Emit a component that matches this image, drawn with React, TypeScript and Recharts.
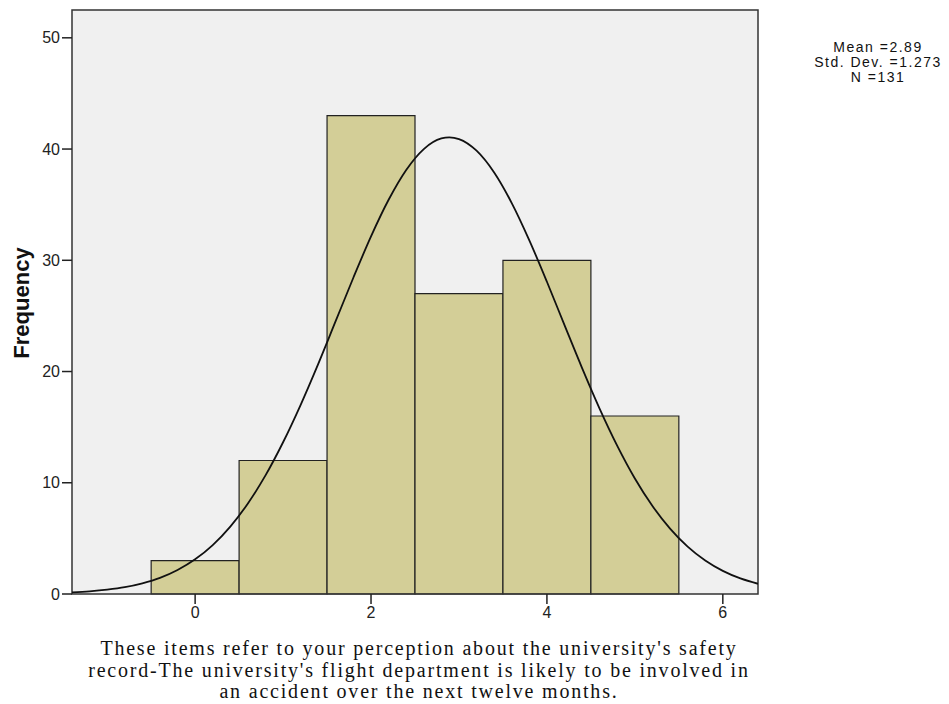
import React from "react";
import { ComposedChart, Line, XAxis, YAxis, ReferenceArea, CartesianGrid } from "recharts";

const binLow = [-0.5, 0.5, 1.5, 2.5, 3.5, 4.5];
const binHigh = [0.5, 1.5, 2.5, 3.5, 4.5, 5.5];
const binCount = [3, 12, 43, 27, 30, 16];

const curveX = [-1.4, -1.2, -1.0, -0.8, -0.6, -0.4, -0.2, 0, 0.2, 0.4, 0.6, 0.8, 1.0, 1.2, 1.4, 1.6, 1.8, 2.0, 2.2, 2.4, 2.6, 2.8, 2.89, 3.0, 3.2, 3.4, 3.6, 3.8, 4.0, 4.2, 4.4, 4.6, 4.8, 5.0, 5.2, 5.4, 5.6, 5.8, 6.0, 6.2, 6.4];
const curveY = [0.14, 0.24, 0.39, 0.61, 0.96, 1.45, 2.16, 3.12, 4.4, 6.06, 8.14, 10.66, 13.64, 17.01, 20.69, 24.57, 28.45, 32.15, 35.44, 38.12, 40.0, 40.95, 41.05, 40.9, 39.85, 37.89, 35.14, 31.79, 28.07, 24.17, 20.31, 16.65, 13.32, 10.39, 7.91, 5.88, 4.26, 3.01, 2.08, 1.4, 0.92];

const xTicks = [0, 2, 4, 6];
const yTicks = [0, 10, 20, 30, 40, 50];
const statsLines = ["Mean =2.89", "Std. Dev. =1.273", "N =131"];
const xTitleLines = [
  "These items refer to your perception about the university's safety",
  "record-The university's flight department is likely to be involved in",
  "an accident over the next twelve months.",
];
const yTitle = "Frequency";

const curveData = curveX.map((x, i) => ({ x, y: curveY[i] }));

const sans = "'Liberation Sans', Arial, sans-serif";
const serif = "'Liberation Serif', 'Times New Roman', serif";

export default function App() {
  return (
    <div style={{ position: "absolute", left: 0, top: 0, width: 949, height: 704, background: "#fff" }}>
      <ComposedChart
        width={949}
        height={704}
        data={curveData}
        margin={{ top: 10, right: 191, left: 0, bottom: 0 }}
      >
        <CartesianGrid horizontal={false} vertical={false} fill="#f0f0f0" />
        <XAxis
          dataKey="x"
          type="number"
          domain={[-1.4, 6.4]}
          ticks={xTicks}
          allowDataOverflow
          height={110}
          axisLine={false}
          tickSize={10}
          tickMargin={3}
          tickLine={{ stroke: "#222", strokeWidth: 1.5 }}
          tick={{ fill: "#222", fontSize: 16, fontFamily: sans }}
          label={(props: any) => (
            <text textAnchor="middle" fontFamily={serif} fontSize={20} letterSpacing={1.8} fill="#111">
              {xTitleLines.map((l, i) => (
                <tspan key={i} x={419} y={655 + i * 21.5}>{l}</tspan>
              ))}
            </text>
          )}
        />
        <YAxis
          type="number"
          domain={[0, 52.5]}
          ticks={yTicks}
          allowDataOverflow
          width={72}
          axisLine={false}
          tickSize={10}
          tickMargin={2}
          tickLine={{ stroke: "#222", strokeWidth: 1.5 }}
          tick={{ fill: "#222", fontSize: 16, fontFamily: sans }}
          label={(props: any) => (
            <text
              x={29}
              y={303}
              transform="rotate(-90 29 303)"
              textAnchor="middle"
              fontFamily={sans}
              fontSize={22}
              fontWeight="bold"
              fill="#111"
            >
              {yTitle}
            </text>
          )}
        />
        {binCount.map((c, i) => (
          <ReferenceArea
            key={i}
            x1={binLow[i]}
            x2={binHigh[i]}
            y1={0}
            y2={c}
            fill="#d3ce97"
            fillOpacity={1}
            stroke="#222"
            strokeWidth={1.2}
            ifOverflow="visible"
          />
        ))}
        <Line
          dataKey="y"
          type="monotone"
          dot={false}
          stroke="#111"
          strokeWidth={1.8}
          isAnimationActive={false}
        />
        <ReferenceArea
          x1={-1.4}
          x2={6.4}
          y1={0}
          y2={52.5}
          fill="none"
          fillOpacity={0}
          stroke="#333"
          strokeWidth={1.5}
          ifOverflow="visible"
        />
      </ComposedChart>
      <svg width={949} height={704} style={{ position: "absolute", left: 0, top: 0, pointerEvents: "none" }}>
        <text textAnchor="middle" fontFamily={sans} fontSize={14} letterSpacing={1.5} fill="#111">
          {statsLines.map((l, i) => (
            <tspan key={i} x={878} y={52 + i * 15}>{l}</tspan>
          ))}
        </text>
      </svg>
    </div>
  );
}
